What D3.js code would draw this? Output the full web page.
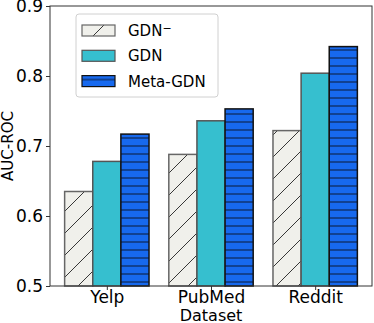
<!DOCTYPE html>
<html>
<head>
<meta charset="utf-8">
<script src="https://cdn.jsdelivr.net/npm/d3@7/dist/d3.min.js"></script>
<style>
  body { margin: 0; background: #fff; }
  text { font-family: "DejaVu Sans", sans-serif; fill: #000; }
</style>
</head>
<body>
<div id="chart"></div>
<script>
// data
const datasets = ["Yelp", "PubMed", "Reddit"];
const methods = ["GDN-", "GDN", "Meta-GDN"];
const gdnMinus = [0.635, 0.688, 0.722];
const gdn = [0.678, 0.736, 0.804];
const metaGdn = [0.717, 0.753, 0.842];
const yTicks = [0.5, 0.6, 0.7, 0.8, 0.9];

const series = [gdnMinus, gdn, metaGdn];

const props = {
  width: 374, height: 323,
  top: 6, right: 2, bottom: 37, left: 50,
  barWidth: 0.27
};

const width = props.width - props.left - props.right;
const height = props.height - props.top - props.bottom;

const svg = d3.select("#chart").append("svg")
  .attr("width", props.width)
  .attr("height", props.height);

// hatch patterns
const defs = svg.append("defs");
const diag = defs.append("pattern")
  .attr("id", "hatch-diag")
  .attr("patternUnits", "userSpaceOnUse")
  .attr("width", 22).attr("height", 22);
diag.append("rect").attr("width", 22).attr("height", 22).attr("fill", "#f0f0eb");
diag.append("path")
  .attr("d", "M-2,24 L24,-2 M-13,13 L13,-13 M9,35 L35,9")
  .attr("stroke", "#222").attr("stroke-width", 0.9);

const horiz = defs.append("pattern")
  .attr("id", "hatch-horiz")
  .attr("patternUnits", "userSpaceOnUse")
  .attr("width", 8).attr("height", 8);
horiz.append("rect").attr("width", 8).attr("height", 8).attr("fill", "#1769ee");
horiz.append("path")
  .attr("d", "M0,4 L8,4")
  .attr("stroke", "#0c1f45").attr("stroke-width", 1.1);

const styles = [
  { fill: "url(#hatch-diag)", stroke: "#666" },
  { fill: "#36bfcf", stroke: "#555" },
  { fill: "url(#hatch-horiz)", stroke: "#111" }
];

const g = svg.append("g")
  .attr("transform", `translate(${props.left},${props.top})`);

// matplotlib-like x range: bars at 0,1,2 plus margins
const x = d3.scaleLinear()
  .domain([-0.5455, 2.5455])
  .range([0, width]);
const y = d3.scaleLinear()
  .domain([0.5, 0.9])
  .range([height, 0]);

// bars
series.forEach((vals, si) => {
  const off = (si - 1) * props.barWidth;
  g.selectAll(".bar-" + si)
    .data(vals)
    .enter().append("rect")
      .attr("class", "bar-" + si)
      .attr("x", (d, i) => x(i + off - props.barWidth / 2))
      .attr("width", x(props.barWidth) - x(0))
      .attr("y", d => y(d))
      .attr("height", d => height - y(d))
      .attr("fill", styles[si].fill)
      .attr("stroke", styles[si].stroke)
      .attr("stroke-width", 1.5);
});

// axes
const xAxis = d3.axisBottom(x)
  .tickValues(d3.range(datasets.length))
  .tickFormat(i => datasets[i])
  .tickSize(4).tickPadding(1);
const yAxis = d3.axisLeft(y)
  .tickValues(yTicks)
  .tickFormat(d3.format(".1f"))
  .tickSize(4).tickPadding(3);

const gx = g.append("g")
  .attr("class", "x axis")
  .attr("transform", `translate(0,${height})`)
  .call(xAxis);
gx.select(".domain").remove();
gx.selectAll("text").style("font-size", "17px");
gx.selectAll("line").attr("stroke", "#333");

const gy = g.append("g")
  .attr("class", "y axis")
  .call(yAxis);
gy.select(".domain").remove();
gy.selectAll("text").style("font-size", "17px");
gy.selectAll("line").attr("stroke", "#333");

// frame
g.append("rect")
  .attr("width", width).attr("height", height)
  .attr("fill", "none").attr("stroke", "#333").attr("stroke-width", 1);

// axis labels
g.append("text")
  .attr("transform", `translate(${width / 2},${height + 35})`)
  .style("text-anchor", "middle")
  .style("font-size", "16px")
  .text("Dataset");

g.append("text")
  .attr("transform", "rotate(-90)")
  .attr("x", -height / 2)
  .attr("y", -props.left + 13)
  .style("text-anchor", "middle")
  .style("font-size", "15px")
  .text("AUC-ROC");

// legend
const legend = svg.append("g").attr("transform", "translate(76,14)");
legend.append("rect")
  .attr("width", 142).attr("height", 83)
  .attr("rx", 3)
  .attr("fill", "#fff").attr("fill-opacity", 0.8)
  .attr("stroke", "#d0d0d0");

const items = legend.selectAll(".legend")
  .data(methods)
  .enter().append("g")
    .attr("class", "legend")
    .attr("transform", (d, i) => `translate(6,${11 + i * 25.3})`);

items.append("rect")
  .attr("width", 33).attr("height", 11)
  .attr("fill", (d, i) => styles[i].fill)
  .attr("stroke", (d, i) => styles[i].stroke)
  .attr("stroke-width", 1.2);

const labels = items.append("text")
  .attr("x", 46).attr("y", 5.5)
  .attr("dy", "0.36em")
  .style("font-size", "15px");
labels.each(function (d) {
  const t = d3.select(this);
  if (d === "GDN-") {
    t.append("tspan").text("GDN");
    t.append("tspan").attr("dy", "-0.4em").style("font-size", "11px").text("\u2212");
  } else {
    t.text(d);
  }
});
</script>
</body>
</html>
